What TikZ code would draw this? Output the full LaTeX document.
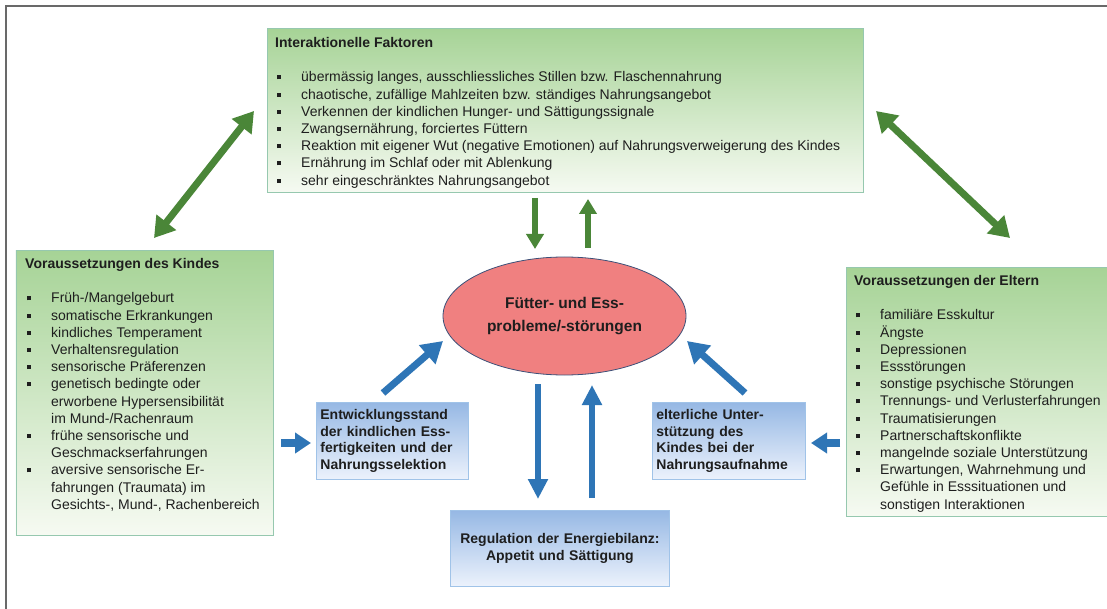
\documentclass[tikz,border=0pt]{standalone}
\usepackage{fontspec}
\setmainfont{Liberation Sans}
\usetikzlibrary{shapes.geometric,arrows.meta}
\definecolor{gtop}{RGB}{166,211,150}
\definecolor{gbot}{RGB}{246,250,242}
\definecolor{gborder}{RGB}{150,200,175}
\definecolor{btop}{RGB}{150,184,228}
\definecolor{bbot}{RGB}{236,242,252}
\definecolor{bborder}{RGB}{160,195,232}
\definecolor{garr}{RGB}{74,134,56}
\definecolor{barr}{RGB}{46,117,182}
\definecolor{ellfill}{RGB}{240,128,128}
\definecolor{ellborder}{RGB}{60,80,120}
\definecolor{txt}{RGB}{30,30,30}
\definecolor{framecol}{RGB}{105,105,105}
\newcommand\bul{\hspace*{2pt}\makebox[24pt][l]{\raisebox{2.5pt}{\rule{4pt}{4pt}}}}
\newcommand\cont{\hspace*{26pt}}
\tikzset{
  gbox/.style={draw=gborder, line width=0.8pt, top color=gtop, bottom color=gbot, inner sep=0pt, anchor=north west},
  bbox/.style={draw=bborder, line width=0.8pt, top color=btop, bottom color=bbot, inner sep=0pt},
  listtext/.style={anchor=north west, inner sep=0pt, align=left, text=txt, font=\fontsize{14}{17.2}\selectfont},
  btext/.style={text=txt, font=\bfseries\fontsize{14}{16.5}\selectfont},
  garrowboth/.style={draw=garr, line width=7pt, {Triangle[length=20pt,width=24pt]}-{Triangle[length=20pt,width=24pt]}},
  gvarrow/.style={draw=garr, line width=6pt, -{Triangle[length=15pt,width=17pt]}},
  barrow/.style={draw=barr, line width=7pt, -{Triangle[length=21pt,width=24pt]}},
  bvarrow/.style={draw=barr, line width=6pt, -{Triangle[length=20pt,width=19pt]}},
  bharrow/.style={draw=barr, line width=8pt, -{Triangle[length=16pt,width=20pt]}},
}
\begin{document}
\begin{tikzpicture}[x=1pt,y=-1pt]
\useasboundingbox (0,0) rectangle (1107,609);
\fill[white] (0,0) rectangle (1107,609);
\draw[framecol, line width=2pt] (5.5,609) -- (5.5,6.5) -- (1107,6.5);

% green boxes
\node[gbox, minimum width=596pt, minimum height=164pt] (topbox) at (267,28) {};
\node[gbox, minimum width=257pt, minimum height=285pt] (kindbox) at (15.5,250) {};
\node[gbox, minimum width=265pt, minimum height=249pt] (elternbox) at (846,267) {};

\node[listtext] (toptext) at (275,37.5) {\textbf{Interaktionelle Faktoren}\\[16.8pt]
\bul übermässig langes, ausschliessliches Stillen bzw. Flaschennahrung\\
\bul chaotische, zufällige Mahlzeiten bzw. ständiges Nahrungsangebot\\
\bul Verkennen der kindlichen Hunger- und Sättigungssignale\\
\bul Zwangsernährung, forciertes Füttern\\
\bul Reaktion mit eigener Wut (negative Emotionen) auf Nahrungsverweigerung des Kindes\\
\bul Ernährung im Schlaf oder mit Ablenkung\\
\bul sehr eingeschränktes Nahrungsangebot};

\node[listtext] (kindtext) at (25,258.5) {\textbf{Voraussetzungen des Kindes}\\[16.8pt]
\bul Früh-/Mangelgeburt\\
\bul somatische Erkrankungen\\
\bul kindliches Temperament\\
\bul Verhaltensregulation\\
\bul sensorische Präferenzen\\
\bul genetisch bedingte oder\\
\cont erworbene Hypersensibilität\\
\cont im Mund-/Rachenraum\\
\bul frühe sensorische und\\
\cont Geschmackserfahrungen\\
\bul aversive sensorische Er-\\
\cont fahrungen (Traumata) im\\
\cont Gesichts-, Mund-, Rachenbereich};

\node[listtext] (elterntext) at (854,275.5) {\textbf{Voraussetzungen der Eltern}\\[16.8pt]
\bul familiäre Esskultur\\
\bul Ängste\\
\bul Depressionen\\
\bul Essstörungen\\
\bul sonstige psychische Störungen\\
\bul Trennungs- und Verlusterfahrungen\\
\bul Traumatisierungen\\
\bul Partnerschaftskonflikte\\
\bul mangelnde soziale Unterstützung\\
\bul Erwartungen, Wahrnehmung und\\
\cont Gefühle in Esssituationen und\\
\cont sonstigen Interaktionen};

% central ellipse
\node[ellipse, draw=ellborder, line width=0.8pt, fill=ellfill, minimum width=243pt, minimum height=118pt, inner sep=0pt,
      align=center, text=txt, font=\bfseries\fontsize{15.5}{23}\selectfont] (ell) at (564.5,316)
      {Fütter- und Ess-\\probleme/-störungen};

% blue boxes
\node[bbox, btext, minimum width=152pt, minimum height=77pt, text width=144pt, align=left, anchor=north west] (entw) at (316,402)
  {Entwicklungsstand\\der kindlichen Ess-\\fertigkeiten und der\\Nahrungsselektion};
\node[bbox, btext, minimum width=153pt, minimum height=77pt, text width=145pt, align=left, anchor=north west] (unter) at (652,402)
  {elterliche Unter-\\stützung des\\Kindes bei der\\Nahrungsaufnahme};
\node[bbox, btext, minimum width=219pt, minimum height=76pt, text width=211pt, align=center, anchor=north west] (regul) at (450,510)
  {Regulation der Energiebilanz:\\Appetit und Sättigung};

% arrow end points
\coordinate (gl1) at (254,111);
\coordinate (gl2) at (154,238);
\coordinate (gr1) at (876,111);
\coordinate (gr2) at (1010,238);
\coordinate (gd1) at (535,198);
\coordinate (gd2) at (535,249);
\coordinate (gu1) at (588,248);
\coordinate (gu2) at (588,199);
\coordinate (bl1) at (383,393);
\coordinate (bl2) at (443,341);
\coordinate (br1) at (745,393);
\coordinate (br2) at (687,341);
\coordinate (bd1) at (538,384);
\coordinate (bd2) at (538,499);
\coordinate (bu1) at (592,498);
\coordinate (bu2) at (592,385);
\coordinate (hl1) at (281,443);
\coordinate (hl2) at (311,443);
\coordinate (hr1) at (840,443);
\coordinate (hr2) at (811,443);

% green arrows
\draw[garrowboth] (gl2) -- (gl1);
\draw[garrowboth] (gr1) -- (gr2);
\draw[gvarrow] (gd1) -- (gd2);
\draw[gvarrow] (gu1) -- (gu2);

% blue arrows
\draw[barrow] (bl1) -- (bl2);
\draw[barrow] (br1) -- (br2);
\draw[bvarrow] (bd1) -- (bd2);
\draw[bvarrow] (bu1) -- (bu2);
\draw[bharrow] (hl1) -- (hl2);
\draw[bharrow] (hr1) -- (hr2);
\end{tikzpicture}
\end{document}
